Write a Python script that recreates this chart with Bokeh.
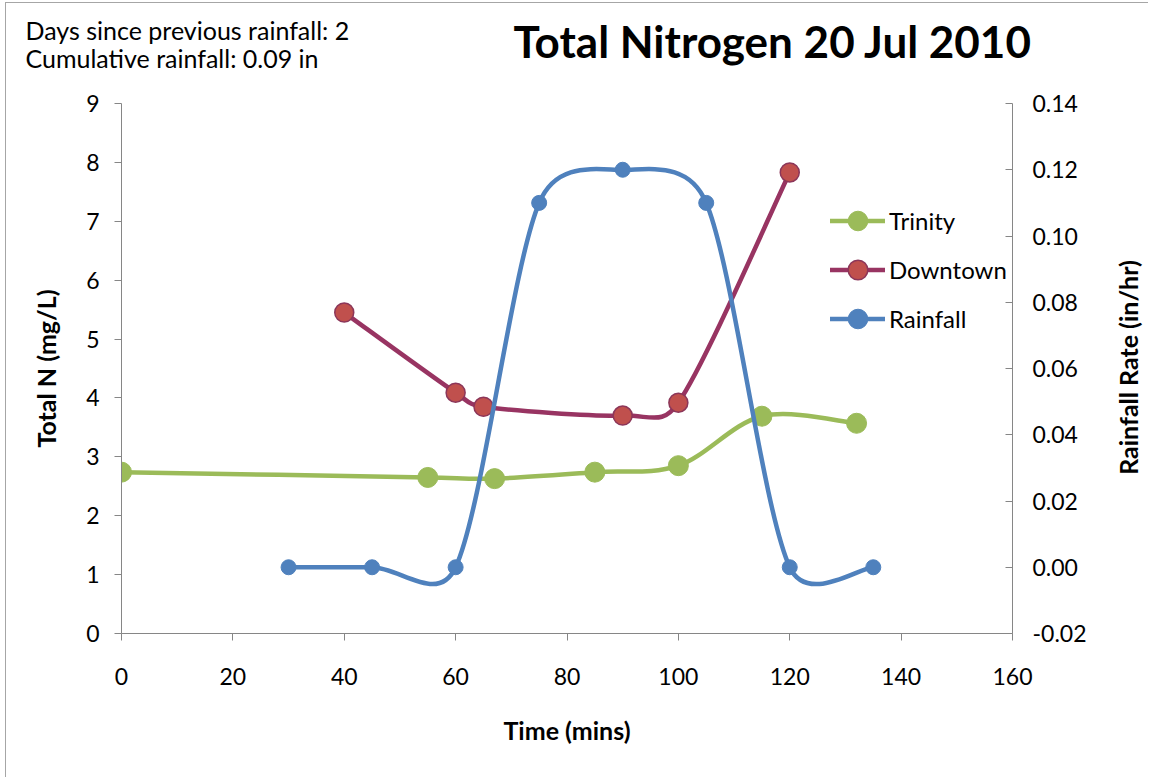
import numpy as np
from bokeh.plotting import figure
from bokeh.models import (Range1d, LinearAxis, FixedTicker, NumeralTickFormatter,
                          Label, Legend, LegendItem, ColumnDataSource)
from bokeh.embed import file_html
from bokeh.resources import INLINE

# ---------------- data ----------------
trinity_time = [0, 55, 67, 85, 100, 115, 132]
trinity_n = [2.74, 2.65, 2.63, 2.74, 2.85, 3.69, 3.57]

downtown_time = [40, 60, 65, 90, 100, 120]
downtown_n = [5.45, 4.09, 3.85, 3.70, 3.92, 7.83]

rain_time = [30, 45, 60, 75, 90, 105, 120, 135]
rain_rate = [0.00, 0.00, 0.00, 0.11, 0.12, 0.11, 0.00, 0.00]

x_ticks = [0, 20, 40, 60, 80, 100, 120, 140, 160]
n_ticks = [0, 1, 2, 3, 4, 5, 6, 7, 8, 9]
rain_ticks = [-0.02, 0.00, 0.02, 0.04, 0.06, 0.08, 0.10, 0.12, 0.14]

title_text = "Total Nitrogen 20 Jul 2010"
info_lines = ["Days since previous rainfall: 2", "Cumulative rainfall: 0.09 in"]

# ---------------- layout ----------------
FW, FH = 891, 530
XR = (0, 160)
YR = (0, 9)
Y2R = (-0.02, 0.14)

FONT = "Lato"
AXIS_COLOR = "#868686"


def fx(dx):
    """pixel offset from the frame's left edge -> x data value"""
    return XR[0] + dx * (XR[1] - XR[0]) / FW


def fy(dy):
    """pixel offset above the frame's bottom edge -> left-axis data value"""
    return YR[0] + dy * (YR[1] - YR[0]) / FH


def smooth_segments(xs, ys, xr, yr):
    """Excel-style smoothing: Bezier segments with control arms from neighbours."""
    xs = np.asarray(xs, float)
    ys = np.asarray(ys, float)
    kx = FW / (xr[1] - xr[0])
    ky = FH / (yr[1] - yr[0])
    P = np.column_stack([(xs - xr[0]) * kx, (ys - yr[0]) * ky])
    n = len(P)
    out = {k: [] for k in ("x0", "y0", "x1", "y1", "cx0", "cy0", "cx1", "cy1")}
    for i in range(n - 1):
        p0 = P[i - 1] if i > 0 else P[i]
        p1, p2 = P[i], P[i + 1]
        p3 = P[i + 2] if i + 2 < n else P[i + 1]
        d12 = np.linalg.norm(p2 - p1)
        a1 = (p2 - p0) / 6.0
        a2 = (p3 - p1) / 6.0
        for a in (a1, a2):
            la = np.linalg.norm(a)
            if la > d12 / 2 and la > 0:
                a *= (d12 / 2) / la
        c1 = p1 + a1
        c2 = p2 - a2
        to_x = lambda v: v / kx + xr[0]
        to_y = lambda v: v / ky + yr[0]
        out["x0"].append(to_x(p1[0])); out["y0"].append(to_y(p1[1]))
        out["x1"].append(to_x(p2[0])); out["y1"].append(to_y(p2[1]))
        out["cx0"].append(to_x(c1[0])); out["cy0"].append(to_y(c1[1]))
        out["cx1"].append(to_x(c2[0])); out["cy1"].append(to_y(c2[1]))
    return ColumnDataSource(out)


p = figure(x_range=Range1d(*XR), y_range=Range1d(*YR),
           frame_width=FW, frame_height=FH,
           min_border_left=115, min_border_right=136,
           min_border_top=100, min_border_bottom=140,
           output_backend="svg", toolbar_location=None,
           background_fill_color="white", border_fill_color="white")
p.extra_y_ranges = {"rain": Range1d(*Y2R)}
p.outline_line_color = None
p.xgrid.visible = False
p.ygrid.visible = False
p.styles = {"margin-left": "5px", "margin-top": "2px",
            "border-left": "1px solid #a6a6a6", "border-top": "1px solid #a6a6a6"}

# series
TR_C, DT_LINE, DT_FILL, DT_EDGE, RF_C = "#9BBB59", "#983462", "#C0504D", "#8C3659", "#4F81BD"
LW = 4.5

t_line = p.bezier(x0="x0", y0="y0", x1="x1", y1="y1", cx0="cx0", cy0="cy0", cx1="cx1", cy1="cy1",
                  source=smooth_segments(trinity_time, trinity_n, XR, YR),
                  line_color=TR_C, line_width=LW, line_cap="round")
t_pts = p.scatter(trinity_time, trinity_n, size=20, marker="circle",
                  fill_color=TR_C, line_color=TR_C, line_width=1)

d_line = p.bezier(x0="x0", y0="y0", x1="x1", y1="y1", cx0="cx0", cy0="cy0", cx1="cx1", cy1="cy1",
                  source=smooth_segments(downtown_time, downtown_n, XR, YR),
                  line_color=DT_LINE, line_width=LW, line_cap="round")
d_pts = p.scatter(downtown_time, downtown_n, size=19, marker="circle",
                  fill_color=DT_FILL, line_color=DT_EDGE, line_width=1.5)

r_line = p.bezier(x0="x0", y0="y0", x1="x1", y1="y1", cx0="cx0", cy0="cy0", cx1="cx1", cy1="cy1",
                  source=smooth_segments(rain_time, rain_rate, XR, Y2R),
                  line_color=RF_C, line_width=LW, line_cap="round", y_range_name="rain")
r_pts = p.scatter(rain_time, rain_rate, size=15, marker="circle",
                  fill_color=RF_C, line_color=RF_C, line_width=1, y_range_name="rain")

# axes
xa = p.xaxis[0]
ya = p.yaxis[0]
ra = LinearAxis(y_range_name="rain")
p.add_layout(ra, "right")

for ax in (xa, ya, ra):
    ax.axis_line_color = AXIS_COLOR
    ax.axis_line_width = 1
    ax.major_tick_line_color = AXIS_COLOR
    ax.minor_tick_line_color = None
    ax.major_label_text_font = FONT
    ax.major_label_text_font_size = "23px"
    ax.major_label_text_color = "black"
    ax.axis_label_text_font = FONT
    ax.axis_label_text_font_size = "25px"
    ax.axis_label_text_font_style = "bold"
    ax.axis_label_text_color = "black"

xa.ticker = FixedTicker(ticks=x_ticks)
xa.major_tick_out = 7
xa.major_tick_in = 0
xa.major_label_standoff = 27
xa.axis_label = "Time (mins)"
xa.axis_label_standoff = 27

ya.ticker = FixedTicker(ticks=n_ticks)
ya.major_tick_out = 7
ya.major_tick_in = 0
ya.major_label_standoff = 15
ya.axis_label = "Total N (mg/L)"
ya.axis_label_standoff = 22

ra.ticker = FixedTicker(ticks=rain_ticks)
ra.formatter = NumeralTickFormatter(format="0.00")
ra.major_tick_out = 0
ra.major_tick_in = 7
ra.major_label_standoff = 20

# ---- texts outside the frame: put in side panels, positioned through the frame's scales ----
lbl_common = dict(x_units="data", y_units="data", text_font=FONT, text_color="black",
                  text_baseline="middle")

ttl = Label(x=fx(392), y=fy(592.5), text=title_text, text_font_size="44px",
            text_font_style="bold", text_align="left", **lbl_common)
info1 = Label(x=fx(-96), y=fy(603.5), text=info_lines[0], text_font_size="25px",
              text_align="left", **lbl_common)
info2 = Label(x=fx(-96), y=fy(575.5), text=info_lines[1], text_font_size="25px",
              text_align="left", **lbl_common)
rlab = Label(x=fx(1006), y=fy(266), text="Rainfall Rate (in/hr)", angle=np.pi / 2,
             text_font_size="25px", text_font_style="bold",
             text_align="center", **lbl_common)

p.add_layout(ttl, "above")
p.add_layout(info1, "above")
p.add_layout(info2, "below")
p.add_layout(rlab, "right")

legend = Legend(items=[LegendItem(label="Trinity", renderers=[t_line, t_pts]),
                       LegendItem(label="Downtown", renderers=[d_line, d_pts]),
                       LegendItem(label="Rainfall", renderers=[r_line, r_pts])],
                location=(709, 290), orientation="vertical",
                glyph_width=55, glyph_height=49, spacing=0, padding=0, margin=0,
                label_standoff=4, background_fill_alpha=0, border_line_color=None,
                label_text_font=FONT, label_text_font_size="24px",
                label_text_color="black")
p.add_layout(legend)

open("out.html", "w").write(file_html(p, INLINE))
